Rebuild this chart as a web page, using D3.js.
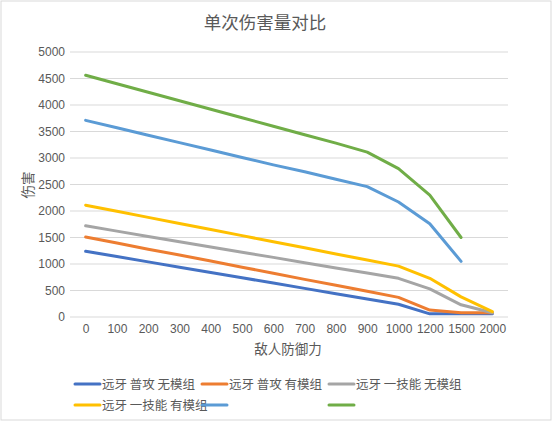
<!DOCTYPE html>
<html><head><meta charset="utf-8">
<script src="https://cdn.jsdelivr.net/npm/d3@7/dist/d3.min.js"></script>
<style>
html,body{margin:0;padding:0;background:#fff;}
text{font-family:"Noto Sans CJK SC","Microsoft YaHei",sans-serif;}
</style></head>
<body>
<svg id="c" width="553" height="422"></svg>
<script>
const categories = ["0","100","200","300","400","500","600","700","800","900","1000","1200","1500","2000"];
const seriesNames = ["远牙 普攻 无模组","远牙 普攻 有模组","远牙 一技能 无模组","远牙 一技能 有模组","",""];
const seriesColors = ["#4472C4","#ED7D31","#A5A5A5","#FFC000","#5B9BD5","#70AD47"];
const s1 = [1240,1140,1040,940,840,740,640,540,440,340,240,60,60,60];
const s2 = [1510,1395,1280,1170,1055,940,825,710,600,485,370,130,80,80];
const s3 = [1720,1620,1520,1420,1320,1220,1125,1025,925,830,730,530,230,80];
const s4 = [2110,1995,1880,1765,1650,1535,1420,1305,1190,1075,960,730,380,100];
const s5 = [3710,3570,3430,3290,3150,3010,2870,2740,2600,2460,2170,1760,1050,null];
const s6 = [4560,4400,4240,4080,3920,3760,3600,3440,3280,3110,2800,2300,1500,null];
const yTicks = [0,500,1000,1500,2000,2500,3000,3500,4000,4500,5000];
const allSeries = [s1,s2,s3,s4,s5,s6];

const svg = d3.select("#c");
svg.append("rect").attr("x",1).attr("y",1).attr("width",550).attr("height",419)
  .attr("fill","#fff").attr("stroke","#d9d9d9").attr("stroke-width",1);

const L=70, R=508, T=52, B=317;
const x = d3.scalePoint().domain(categories).range([L,R]).padding(0.5);
const y = d3.scaleLinear().domain([0,5000]).range([B,T]);

// gridlines
svg.append("g").selectAll("line").data(yTicks).join("line")
  .attr("x1",L).attr("x2",R).attr("y1",d=>y(d)).attr("y2",d=>y(d))
  .attr("stroke","#d9d9d9").attr("stroke-width",1);

// y axis labels
const ya = svg.append("g").attr("transform",`translate(${L-5},0)`)
  .call(d3.axisLeft(y).tickValues(yTicks).tickFormat(d3.format("d")).tickSize(0).tickPadding(0));
ya.select(".domain").remove();
ya.selectAll("text").attr("fill","#595959").style("font-size","12px")
  .style("font-family","'Liberation Sans',Arial,sans-serif");

// x axis labels
const xa = svg.append("g").attr("transform",`translate(0,${B+7})`)
  .call(d3.axisBottom(x).tickSize(0).tickPadding(0));
xa.select(".domain").remove();
xa.selectAll("text").attr("fill","#595959").style("font-size","12px")
  .attr("dy","0.71em").style("font-family","'Liberation Sans',Arial,sans-serif");

// lines
const line = d3.line().defined(d=>d!=null).x((d,i)=>x(categories[i])).y(d=>y(d));
allSeries.forEach((s,k)=>{
  svg.append("path").datum(s).attr("d",line).attr("fill","none")
    .attr("stroke",seriesColors[k]).attr("stroke-width",3)
    .attr("stroke-linejoin","round").attr("stroke-linecap","round");
});

// title
svg.append("text").attr("x",265).attr("y",29).attr("text-anchor","middle")
  .attr("fill","#595959").style("font-size","17.5px").text("单次伤害量对比");
// axis titles
svg.append("text").attr("x",288).attr("y",354).attr("text-anchor","middle")
  .attr("fill","#595959").style("font-size","13.5px").text("敌人防御力");
svg.append("text").attr("transform","translate(33,185) rotate(-90)").attr("text-anchor","middle")
  .attr("fill","#595959").style("font-size","13.5px").text("伤害");

// legend
const legX = [75,202,329];
const legY = [384,405];
seriesNames.forEach((n,k)=>{
  const lx = legX[k%3], ly = legY[Math.floor(k/3)];
  svg.append("line").attr("x1",lx).attr("x2",lx+25).attr("y1",ly).attr("y2",ly)
    .attr("stroke",seriesColors[k]).attr("stroke-width",3).attr("stroke-linecap","round");
  svg.append("text").attr("x",lx+27).attr("y",ly+4.5).attr("fill","#595959")
    .style("font-size","12.5px").text(n);
});
</script>
</body></html>
